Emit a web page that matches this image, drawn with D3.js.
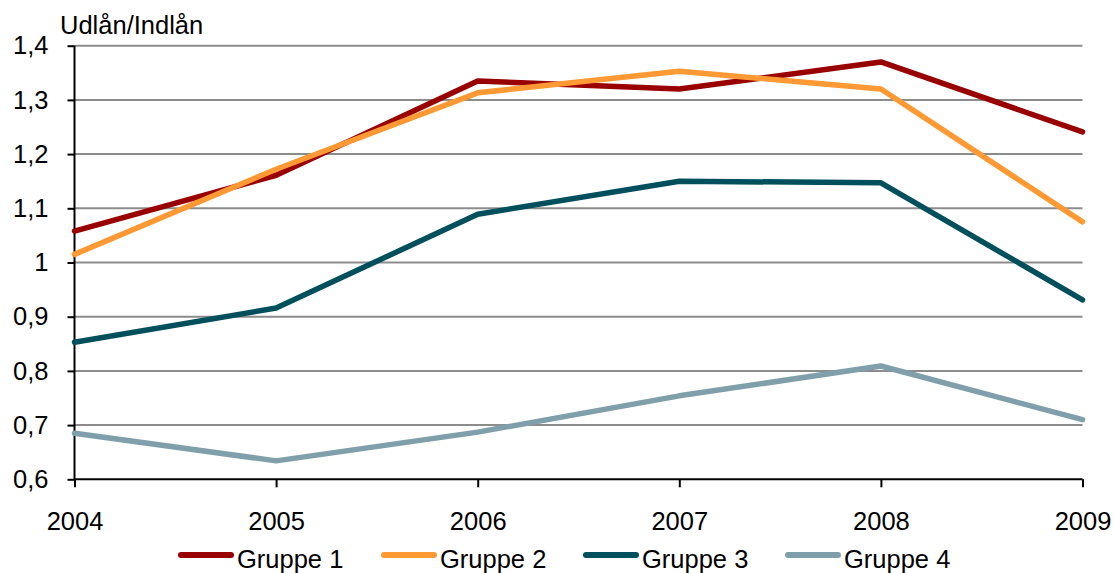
<!DOCTYPE html>
<html>
<head>
<meta charset="utf-8">
<script src="https://cdn.jsdelivr.net/npm/d3@7"></script>
<style>
  html, body { margin: 0; padding: 0; background: #fff; }
  svg { display: block; font-family: "Liberation Sans", Arial, sans-serif; }
</style>
</head>
<body>
<svg id="chart" width="1115" height="573"></svg>
<script>
// Loan-to-deposit ratio per group, 2004-2009
const years = ["2004", "2005", "2006", "2007", "2008", "2009"];
const gruppe1 = [1.058, 1.161, 1.335, 1.320, 1.370, 1.241];
const gruppe2 = [1.015, 1.172, 1.313, 1.353, 1.320, 1.075];
const gruppe3 = [0.853, 0.916, 1.089, 1.150, 1.147, 0.931];
const gruppe4 = [0.685, 0.634, 0.687, 0.754, 0.809, 0.710];
const seriesNames = ["Gruppe 1", "Gruppe 2", "Gruppe 3", "Gruppe 4"];
const seriesColors = ["#990000", "#FF9933", "#004F5C", "#7F9FAA"];
const yTicks = [0.6, 0.7, 0.8, 0.9, 1.0, 1.1, 1.2, 1.3, 1.4];
const yTitle = "Udlån/Indlån";

const series = [gruppe1, gruppe2, gruppe3, gruppe4].map((vals, i) => ({
  name: seriesNames[i], color: seriesColors[i], values: vals
}));

const FONT = "'Liberation Sans', Arial, sans-serif";
const FS = 25.5;

const svg = d3.select("#chart");
const plotLeft = 74.5, plotRight = 1082.5, plotTop = 45.7, plotBottom = 479.3;

const x = d3.scalePoint().domain(years).range([plotLeft, plotRight]);
const y = d3.scaleLinear().domain([0.6, 1.4]).range([plotBottom, plotTop]);

const fmt = v => (Math.abs(v - 1) < 1e-9 ? "1" : d3.format(".1f")(v).replace(".", ","));

// horizontal gridlines
svg.append("g")
  .selectAll("line")
  .data(yTicks.filter(t => t > 0.6))
  .join("line")
  .attr("x1", plotLeft).attr("x2", plotRight)
  .attr("y1", d => y(d)).attr("y2", d => y(d))
  .attr("stroke", "#8c8c8c").attr("stroke-width", 2);

// y axis
const yAxis = svg.append("g")
  .attr("transform", `translate(${plotLeft},0)`)
  .call(d3.axisLeft(y).tickValues(yTicks).tickFormat(fmt).tickSize(7).tickPadding(19));
yAxis.attr("font-size", FS).attr("font-family", FONT);
yAxis.select(".domain").attr("stroke", "#000").attr("stroke-width", 2)
  .attr("d", `M0,${plotTop}V${plotBottom}`);
yAxis.selectAll(".tick line").attr("stroke", "#000").attr("stroke-width", 2);
yAxis.selectAll(".tick text").attr("fill", "#000");

// x axis
const xAxis = svg.append("g")
  .attr("transform", `translate(0,${plotBottom})`)
  .call(d3.axisBottom(x).tickSize(8).tickPadding(25));
xAxis.attr("font-size", FS).attr("font-family", FONT);
xAxis.select(".domain").attr("stroke", "#000").attr("stroke-width", 2)
  .attr("d", `M${plotLeft},0H${plotRight}`);
xAxis.selectAll(".tick line").attr("stroke", "#000").attr("stroke-width", 2);
xAxis.selectAll(".tick text").attr("fill", "#000");

// axis title
svg.append("text")
  .attr("x", 60).attr("y", 34)
  .attr("font-size", FS).attr("font-family", FONT).attr("fill", "#000")
  .text(yTitle);

// series lines
const line = d3.line().x((d, i) => x(years[i])).y(d => y(d));
svg.append("g")
  .selectAll("path")
  .data(series)
  .join("path")
  .attr("d", d => line(d.values))
  .attr("fill", "none")
  .attr("stroke", d => d.color)
  .attr("stroke-width", 5.5)
  .attr("stroke-linejoin", "round")
  .attr("stroke-linecap", "round");

// legend
const legendX = [179, 382, 584, 786];
const legend = svg.append("g")
  .selectAll("g")
  .data(series)
  .join("g")
  .attr("transform", (d, i) => `translate(${legendX[i]},555)`);
legend.append("line")
  .attr("x1", 2).attr("x2", 52).attr("y1", 0).attr("y2", 0)
  .attr("stroke", d => d.color).attr("stroke-width", 6).attr("stroke-linecap", "round");
legend.append("text")
  .attr("x", 58).attr("y", 13)
  .attr("font-size", FS).attr("font-family", FONT).attr("fill", "#000")
  .text(d => d.name);
</script>
</body>
</html>
